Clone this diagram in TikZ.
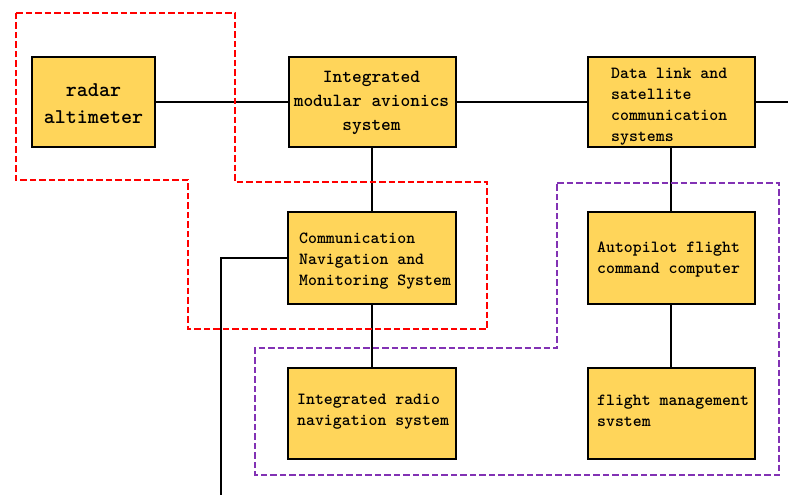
\documentclass[tikz,border=0pt]{standalone}
\definecolor{boxfill}{RGB}{255,213,90}
\definecolor{grpred}{RGB}{255,0,0}
\definecolor{grppurple}{RGB}{130,50,180}
\begin{document}
\begin{tikzpicture}[x=1pt,y=-1pt,
  box/.style={draw=black, line width=2pt, fill=boxfill, inner sep=0pt},
  lbl/.style={font=\ttfamily\bfseries\fontsize{17}{21}\selectfont, align=left, inner sep=0pt, text=black},
  conn/.style={draw=black, line width=2pt},
  grp/.style={line width=2pt, dash pattern=on 6.5pt off 3pt, line join=miter}]
\useasboundingbox (0,0) rectangle (788,495);
% boxes
\node[box, minimum width=123pt, minimum height=90pt] (radar) at (93.5,102) {};
\node[box, minimum width=167pt, minimum height=90pt] (ima) at (372,102) {};
\node[box, minimum width=167pt, minimum height=90pt] (dlink) at (671,102) {};
\node[box, minimum width=168pt, minimum height=92pt] (cnms) at (372,258) {};
\node[box, minimum width=167pt, minimum height=92pt] (ap) at (671,258) {};
\node[box, minimum width=168pt, minimum height=91pt] (irns) at (372,413.5) {};
\node[box, minimum width=167pt, minimum height=91pt] (fms) at (671,413.5) {};
% connectors
\coordinate (rightend) at (788,102);
\coordinate (bottomend) at (221,495);
\draw[conn] (radar.east) -- (ima.west);
\draw[conn] (ima.east) -- (dlink.west);
\draw[conn] (dlink.east) -- (rightend);
\draw[conn] (ima.south) -- (cnms.north);
\draw[conn] (cnms.south) -- (irns.north);
\draw[conn] (dlink.south) -- (ap.north);
\draw[conn] (ap.south) -- (fms.north);
\draw[conn] (cnms.west) -| (bottomend);
% labels
\node[lbl, font=\ttfamily\bfseries\fontsize{21}{27}\selectfont, align=center] (tradar) at (93.5,103.5) {radar\\altimeter};
\node[lbl, font=\ttfamily\bfseries\fontsize{18.5}{24}\selectfont, align=center] (tima) at (371.5,103) {Integrated\\modular avionics\\system};
\node[lbl, anchor=west] (tdlink) at (611,106.5) {Data link and\\satellite\\communication\\systems};
\node[lbl, anchor=west] (tcnms) at (299,261) {Communication\\Navigation and\\Monitoring System};
\node[lbl, anchor=west] (tap) at (597,259.5) {Autopilot flight\\command computer};
\node[lbl, anchor=west] (tirns) at (297,411.5) {Integrated radio\\navigation system};
\node[lbl, anchor=west] (tfms) at (597,411) {flight management\\svstem};
% groups
\draw[grp, draw=grpred] (16,13) -- (235,13) -- (235,182) -- (487,182) -- (487,329) -- (188,329) -- (188,180) -- (16,180) -- cycle;
\draw[grp, draw=grppurple] (557,183) -- (779,183) -- (779,475) -- (255,475) -- (255,348) -- (557,348) -- cycle;
\end{tikzpicture}
\end{document}
